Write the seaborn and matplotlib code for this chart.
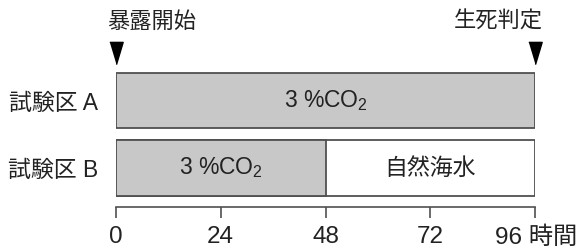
import numpy as np
import pandas as pd
import matplotlib
matplotlib.use("Agg")
import matplotlib.pyplot as plt
import matplotlib.transforms as mtransforms
import seaborn as sns


#--------------------Data-----------------------
groups = ["試験区 A", "試験区 B"]
seg_group = ["試験区 A", "試験区 B", "試験区 B"]
seg_label = ["3 %CO$_2$", "3 %CO$_2$", "自然海水"]
seg_start = [0, 0, 48]
seg_end = [96, 48, 96]
seg_fill = ["gray", "gray", "white"]

hour_ticks = [0, 24, 48, 72, 96]
hour_labels = ["0", "24", "48", "72", "96"]
hour_unit = "時間"

events = ["暴露開始", "生死判定"]
event_hour = [0, 96]

segments = pd.DataFrame({"group": seg_group, "label": seg_label,
                         "start": seg_start, "end": seg_end, "fill": seg_fill})


#--------------------Style-----------------------
sns.set_style("white")
plt.rcParams["font.family"] = ["Liberation Sans", "Noto Sans CJK JP", "DejaVu Sans"]
plt.rcParams["mathtext.default"] = "regular"
text_color = "#222222"
gray = "#c8c8c8"
edge = "#505050"


#--------------------Plot-----------------------
fig = plt.figure(figsize=(5.77, 2.49), dpi=100)
ax = fig.add_axes([116/577, 42/249, 419/577, 207/249])

# white layer first (whole bar), gray segments drawn on top
white = segments[segments["fill"] == "white"]
grey = segments[segments["fill"] == "gray"]
sns.barplot(data=white, x="end", y="group", order=groups, orient="h",
            color="white", edgecolor=edge, linewidth=1.3, width=0.82,
            errorbar=None, saturation=1, ax=ax)
sns.barplot(data=grey, x="end", y="group", order=groups, orient="h",
            color=gray, edgecolor=edge, linewidth=1.3, width=0.82,
            errorbar=None, saturation=1, ax=ax)

# labels inside segments
for _, row in segments.iterrows():
    ax.text((row["start"] + row["end"]) / 2, groups.index(row["group"]), row["label"],
            ha="center", va="center", fontsize=16.5, color=text_color)

ax.set_xlim(0, 96)
ax.set_ylim(1.578, -1.489)
ax.set_xlabel("")
ax.set_ylabel("")

ax.set_xticks(hour_ticks)
ax.set_xticklabels(hour_labels[:-1] + [hour_labels[-1] + " " + hour_unit])
ax.tick_params(axis="x", direction="out", length=8, width=1.2, color=edge,
               pad=6, labelsize=17.5, labelcolor=text_color, bottom=True)
last = ax.get_xticklabels()[-1]
last.set_horizontalalignment("left")
last.set_transform(last.get_transform() +
                   mtransforms.ScaledTranslation(-40/100, 0, fig.dpi_scale_trans))

ax.tick_params(axis="y", length=0, pad=13, labelsize=16.5, labelcolor=text_color)

for side in ["top", "right", "left"]:
    ax.spines[side].set_visible(False)
ax.spines["bottom"].set_color(edge)
ax.spines["bottom"].set_linewidth(1.2)

# event markers above the bars
tri = [(-0.6, 1), (0.6, 1), (0, -1)]
trans = ax.get_xaxis_transform()
ax.plot(event_hour, [0.745] * len(event_hour), linestyle="none", marker=tri,
        markersize=16, color="black", transform=trans, clip_on=False)
ax.text(event_hour[0], 0.894, events[0], transform=trans + mtransforms.ScaledTranslation(-9/100, 0, fig.dpi_scale_trans),
        ha="left", va="center", fontsize=16, color=text_color)
ax.text(event_hour[1], 0.894, events[1], transform=trans + mtransforms.ScaledTranslation(8/100, 0, fig.dpi_scale_trans),
        ha="right", va="center", fontsize=16, color=text_color)

fig.savefig("out.png", dpi=100)
